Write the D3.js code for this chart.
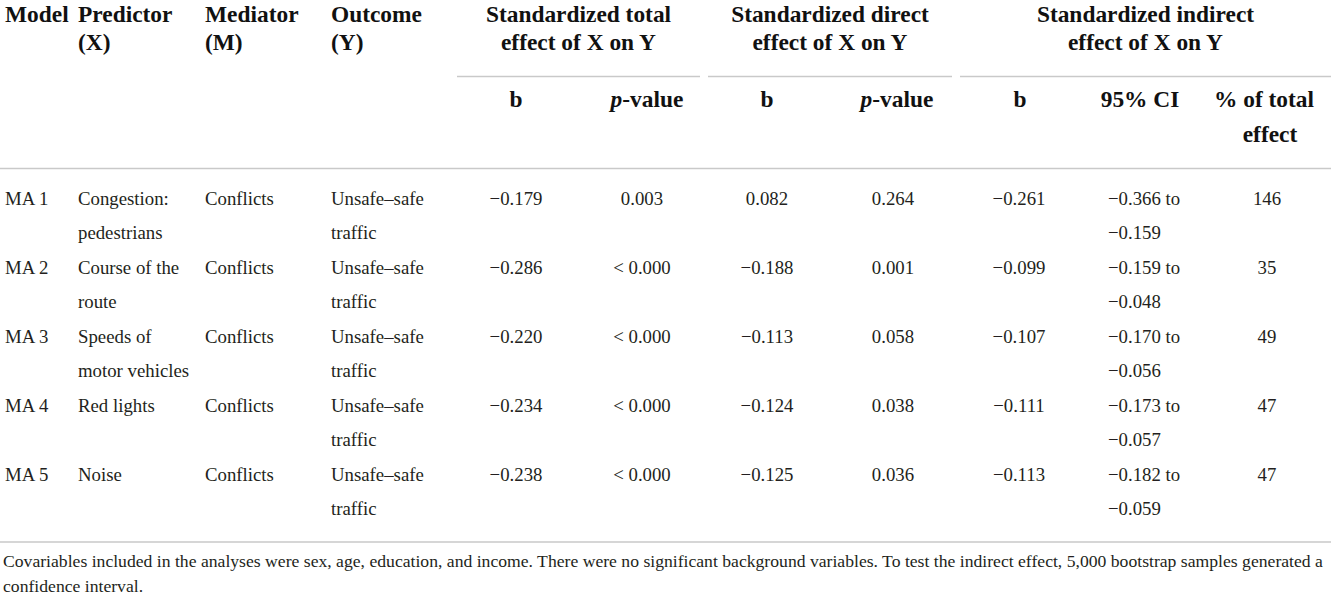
<!DOCTYPE html>
<html>
<head>
<meta charset="utf-8">
<script src="https://cdn.jsdelivr.net/npm/d3@7"></script>
<style>
  html, body { margin: 0; padding: 0; background: #fff; }
  svg { display: block; }
</style>
</head>
<body>
<script>
// ---------- data ----------
const models = ["MA 1", "MA 2", "MA 3", "MA 4", "MA 5"];
const predictors = [["Congestion:", "pedestrians"], ["Course of the", "route"], ["Speeds of", "motor vehicles"], ["Red lights"], ["Noise"]];
const mediators = ["Conflicts", "Conflicts", "Conflicts", "Conflicts", "Conflicts"];
const outcomes = [["Unsafe–safe", "traffic"], ["Unsafe–safe", "traffic"], ["Unsafe–safe", "traffic"], ["Unsafe–safe", "traffic"], ["Unsafe–safe", "traffic"]];
const totalB = ["−0.179", "−0.286", "−0.220", "−0.234", "−0.238"];
const totalP = ["0.003", "< 0.000", "< 0.000", "< 0.000", "< 0.000"];
const directB = ["0.082", "−0.188", "−0.113", "−0.124", "−0.125"];
const directP = ["0.264", "0.001", "0.058", "0.038", "0.036"];
const indirectB = ["−0.261", "−0.099", "−0.107", "−0.111", "−0.113"];
const ciLow = ["−0.366", "−0.159", "−0.170", "−0.173", "−0.182"];
const ciHigh = ["−0.159", "−0.048", "−0.056", "−0.057", "−0.059"];
const pctTotal = ["146", "35", "49", "47", "47"];
const leftHeaders = [["Model"], ["Predictor", "(X)"], ["Mediator", "(M)"], ["Outcome", "(Y)"]];
const groupHeaders = [["Standardized total", "effect of X on Y"], ["Standardized direct", "effect of X on Y"], ["Standardized indirect", "effect of X on Y"]];
const footnote = ["Covariables included in the analyses were sex, age, education, and income. There were no significant background variables. To test the indirect effect, 5,000 bootstrap samples generated a", "confidence interval."];

// ---------- layout ----------
const W = 1334, H = 598;
const serif = "'Liberation Serif', 'Times New Roman', serif";
const bodySize = 18.8, headSize = 23.4, noteSize = 17.65;
const bodyColor = "#231f20", lineColor = "#c9c9c9";

const svg = d3.select("body").append("svg").attr("width", W).attr("height", H)
  .style("background", "#fff");

// row baseline scale (two text lines per row)
const rowY = d3.scaleLinear().domain([0, 1]).range([204.5, 273.5]);
const lineGap = 34.5;

const leftX = [5, 78, 205, 331];
const colCenter = { tb: 516, tp: 642, db: 767, dp: 893, ib: 1019, pc: 1267 };
const ciLeft = 1108;
const groupSpans = [[457, 700], [708, 952], [960, 1331]];

function txt(g, x, y, s, opts = {}) {
  return g.append("text")
    .attr("x", x).attr("y", y)
    .attr("font-family", serif)
    .attr("font-size", opts.size || bodySize)
    .attr("font-weight", opts.bold ? "bold" : "normal")
    .attr("fill", opts.color || bodyColor)
    .attr("text-anchor", opts.anchor || "start")
    .text(s);
}

// ---------- header ----------
const head = svg.append("g");
leftHeaders.forEach((lines, i) => {
  lines.forEach((s, j) => txt(head, leftX[i], 22 + j * 27.5, s, { bold: true, size: headSize, color: "#111" }));
});
groupHeaders.forEach((lines, i) => {
  const cx = (groupSpans[i][0] + groupSpans[i][1]) / 2;
  lines.forEach((s, j) => txt(head, cx, 22 + j * 27.5, s, { bold: true, size: headSize, anchor: "middle", color: "#111" }));
});
// group underlines
head.selectAll("line.grp").data(groupSpans).join("line")
  .attr("x1", d => d[0]).attr("x2", d => d[1])
  .attr("y1", 76.5).attr("y2", 76.5)
  .attr("stroke", lineColor).attr("stroke-width", 1.6);

// sub headers
function subHead(cx, parts, y) {
  const t = head.append("text").attr("x", cx).attr("y", y)
    .attr("font-family", serif).attr("font-size", headSize).attr("font-weight", "bold")
    .attr("fill", "#111").attr("text-anchor", "middle");
  parts.forEach(p => t.append("tspan").attr("font-style", p.it ? "italic" : "normal").text(p.s));
}
subHead(colCenter.tb, [{ s: "b" }], 107);
subHead(647, [{ s: "p", it: true }, { s: "-value" }], 107);
subHead(colCenter.db, [{ s: "b" }], 107);
subHead(897, [{ s: "p", it: true }, { s: "-value" }], 107);
subHead(1020, [{ s: "b" }], 107);
subHead(1140, [{ s: "95% CI" }], 107);
subHead(1264, [{ s: "% of total" }], 107);
subHead(1270, [{ s: "effect" }], 142);

// full-width rules
svg.selectAll("line.rule").data([168.5, 542]).join("line")
  .attr("x1", 0).attr("x2", 1331)
  .attr("y1", d => d).attr("y2", d => d)
  .attr("stroke", lineColor).attr("stroke-width", 1.6);

// ---------- body ----------
const bodyG = svg.append("g");
models.forEach((m, i) => {
  const y = rowY(i);
  txt(bodyG, leftX[0], y, m);
  predictors[i].forEach((s, j) => txt(bodyG, leftX[1], y + j * lineGap, s));
  txt(bodyG, leftX[2], y, mediators[i]);
  outcomes[i].forEach((s, j) => txt(bodyG, leftX[3], y + j * lineGap, s));
  txt(bodyG, colCenter.tb, y, totalB[i], { anchor: "middle" });
  txt(bodyG, colCenter.tp, y, totalP[i], { anchor: "middle" });
  txt(bodyG, colCenter.db, y, directB[i], { anchor: "middle" });
  txt(bodyG, colCenter.dp, y, directP[i], { anchor: "middle" });
  txt(bodyG, colCenter.ib, y, indirectB[i], { anchor: "middle" });
  txt(bodyG, ciLeft, y, ciLow[i] + " to");
  txt(bodyG, ciLeft, y + lineGap, ciHigh[i]);
  txt(bodyG, colCenter.pc, y, pctTotal[i], { anchor: "middle" });
});

// ---------- footnote ----------
footnote.forEach((s, j) => txt(svg, 3, 567 + j * 25, s, { size: noteSize }));
</script>
</body>
</html>
